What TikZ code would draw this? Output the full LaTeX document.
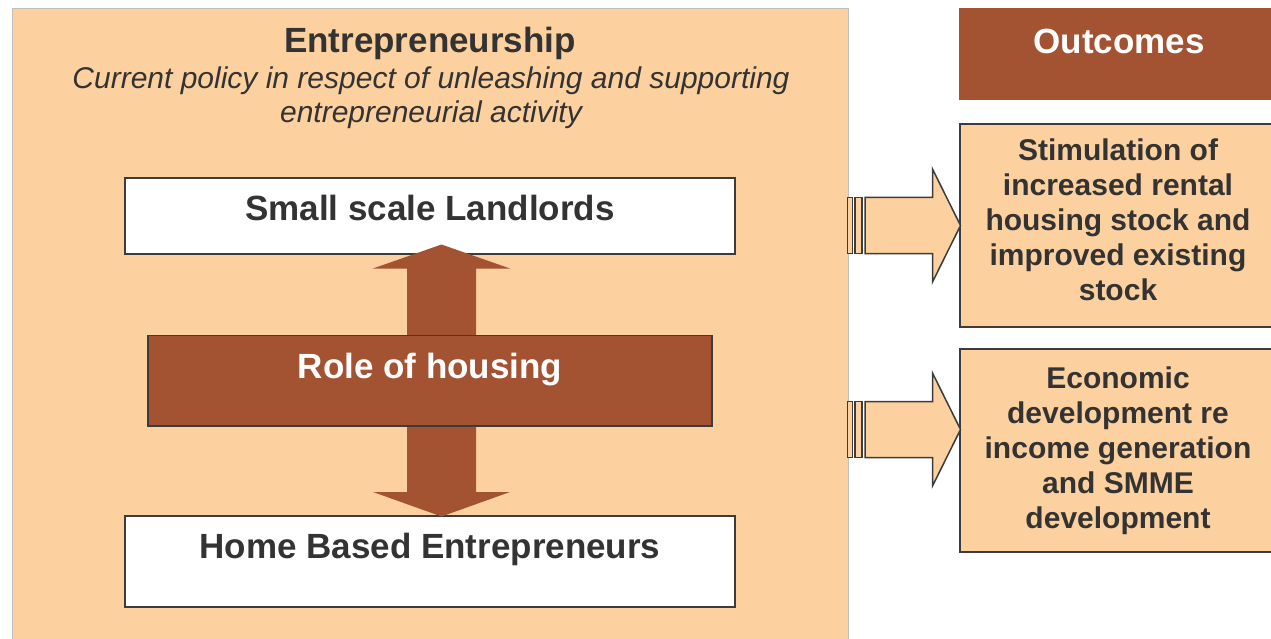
\documentclass[tikz,border=0pt]{standalone}
\usepackage{fontspec}
\setmainfont{Liberation Sans}
\definecolor{peach}{HTML}{FDD19F}
\definecolor{hbrown}{HTML}{A45332}
\definecolor{txt}{HTML}{333333}
\definecolor{edge}{HTML}{3C3C3C}
\begin{document}
\begin{tikzpicture}[x=1pt,y=-1pt,
  box/.style={draw=edge,line width=1.6pt,fill=white,inner sep=0pt,rectangle},
  obox/.style={draw=edge,line width=1.6pt,fill=peach,inner sep=0pt,rectangle},
  bigtxt/.style={font=\fontsize{35}{40}\selectfont\bfseries,text=txt,inner sep=0pt},
  otxt/.style={font=\fontsize{30}{35}\selectfont\bfseries,text=txt,inner sep=0pt,align=center},
  ital/.style={font=\fontsize{30}{34}\selectfont\itshape,text=txt,inner sep=0pt,align=center},
  rarrow/.style={draw=edge,line width=1.5pt,fill=peach,line join=miter},
  varrow/.style={fill=hbrown,draw=none}]
\clip (0,0) rectangle (1271,639);
\fill[white] (0,0) rectangle (1271,639);
% main panel
\node[draw=black!25,line width=1pt,fill=peach,minimum width=836pt,minimum height=642pt,inner sep=0pt] (panel) at (430,330) {};
\node[bigtxt,anchor=base] (title) at (430,53) {Entrepreneurship};
\node[ital] (sub) at (431,97.5) {Current policy in respect of unleashing and supporting\\entrepreneurial activity};
% boxes
\node[box,minimum width=610pt,minimum height=76pt] (land) at (430,216) {};
\node[box,minimum width=610pt,minimum height=91pt] (home) at (430,561.5) {};
% vertical arrows
\path[varrow] (407,336) -- (407,268.5) -- (373,268.5) -- (441.5,244.5) -- (510,268.5) -- (476,268.5) -- (476,336) -- cycle;
\path[varrow] (407,425) -- (407,492) -- (373,492) -- (441.5,516.5) -- (510,492) -- (476,492) -- (476,425) -- cycle;
\node[box,fill=hbrown,minimum width=564pt,minimum height=90.5pt] (role) at (430,380.75) {};
\node[bigtxt,anchor=base] (landt) at (430,220.5) {Small scale Landlords};
\node[bigtxt,anchor=base,text=white] (rolet) at (430,378.5) {Role of housing};
\node[bigtxt,anchor=base] (homet) at (430,558.3) {Home Based Entrepreneurs};
% outcomes
\node[fill=hbrown,minimum width=321pt,minimum height=92pt,inner sep=0pt] (out) at (1119.5,54) {};
\node[bigtxt,anchor=base,text=white] (outt) at (1119,54) {Outcomes};
\node[obox,minimum width=322pt,minimum height=203pt] (o1) at (1121,225.5) {};
\node[otxt] (o1t) at (1118,220) {Stimulation of\\increased rental\\housing stock and\\improved existing\\stock};
\node[obox,minimum width=322pt,minimum height=203pt] (o2) at (1121,450.5) {};
\node[otxt] (o2t) at (1118,450.5) {Economic\\development re\\income generation\\and SMME\\development};
% striped block arrows
\foreach \dy in {0,204}{
  \draw[rarrow] (847.5,197.5+\dy) rectangle (852.5,253.5+\dy);
  \draw[rarrow] (855,197.5+\dy) rectangle (862,253.5+\dy);
  \draw[rarrow] (865,197.5+\dy) -- (932.5,197.5+\dy) -- (932.5,169+\dy) -- (960.5,225.5+\dy) -- (932.5,282+\dy) -- (932.5,253.5+\dy) -- (865,253.5+\dy) -- cycle;
}
\end{tikzpicture}
\end{document}
